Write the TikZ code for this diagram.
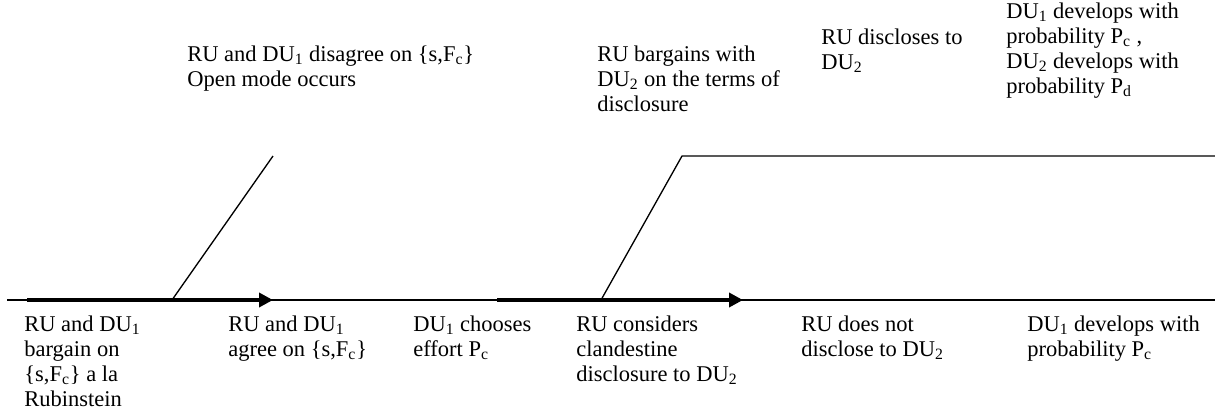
\documentclass[tikz,border=0pt]{standalone}
\usepackage{fontspec}
\setmainfont{Liberation Serif}
\usetikzlibrary{arrows.meta}
\begin{document}
\begin{tikzpicture}[x=0.6pt,y=-0.6pt,
    event/.style={anchor=base west,inner sep=0pt,align=left,font=\fontsize{13.5pt}{15pt}\selectfont},
    stage/.style={line width=2.2pt,-{Triangle[length=8.4pt,width=8.4pt]}},
    branch/.style={line width=0.8pt}]
  \useasboundingbox (0,0) rectangle (1215,417);
  % Coordinates: time line and branches
  \coordinate (L) at (7,300);
  \coordinate (R) at (1215,300);
  \coordinate (A0) at (27,300);
  \coordinate (A1) at (273,300);
  \coordinate (B0) at (497,300);
  \coordinate (B1) at (743,300);
  \coordinate (S1) at (172,300);
  \coordinate (S1t) at (273,156);
  \coordinate (S2) at (601,300);
  \coordinate (S2t) at (682,156);
  \coordinate (S2r) at (1215,156);
  % Nodes: events below the line (placed at the last baseline)
  \node[event] (bargain) at (24,406) {RU and DU\textsubscript{1}\\bargain on\\\{s,F\textsubscript{c}\} a la\\Rubinstein};
  \node[event] (agree) at (228,356) {RU and DU\textsubscript{1}\\agree on \{s,F\textsubscript{c}\}};
  \node[event] (effort) at (413,356) {DU\textsubscript{1} chooses\\effort P\textsubscript{c}};
  \node[event] (consider) at (576,381) {RU considers\\clandestine\\disclosure to DU\textsubscript{2}};
  \node[event] (nodisc) at (801,356) {RU does not\\disclose to DU\textsubscript{2}};
  \node[event] (dev1) at (1027,356) {DU\textsubscript{1} develops with\\probability P\textsubscript{c}};
  % Nodes: events above the line
  \node[event] (disagree) at (187,86) {RU and DU\textsubscript{1} disagree on \{s,F\textsubscript{c}\}\\Open mode occurs};
  \node[event] (terms) at (597,111) {RU bargains with\\DU\textsubscript{2} on the terms of\\disclosure};
  \node[event] (disc) at (821,69) {RU discloses to\\DU\textsubscript{2}};
  \node[event] (dev2) at (1006,93) {DU\textsubscript{1} develops with\\probability P\textsubscript{c} ,\\DU\textsubscript{2} develops with\\probability P\textsubscript{d}};
  % Lines: time line, stages and branches
  \draw[branch] (L) -- (R);
  \draw[stage] (A0) -- (A1);
  \draw[stage] (B0) -- (B1);
  \draw[branch] (S1) -- (S1t);
  \draw[branch] (S2) -- (S2t) -- (S2r);
\end{tikzpicture}
\end{document}
